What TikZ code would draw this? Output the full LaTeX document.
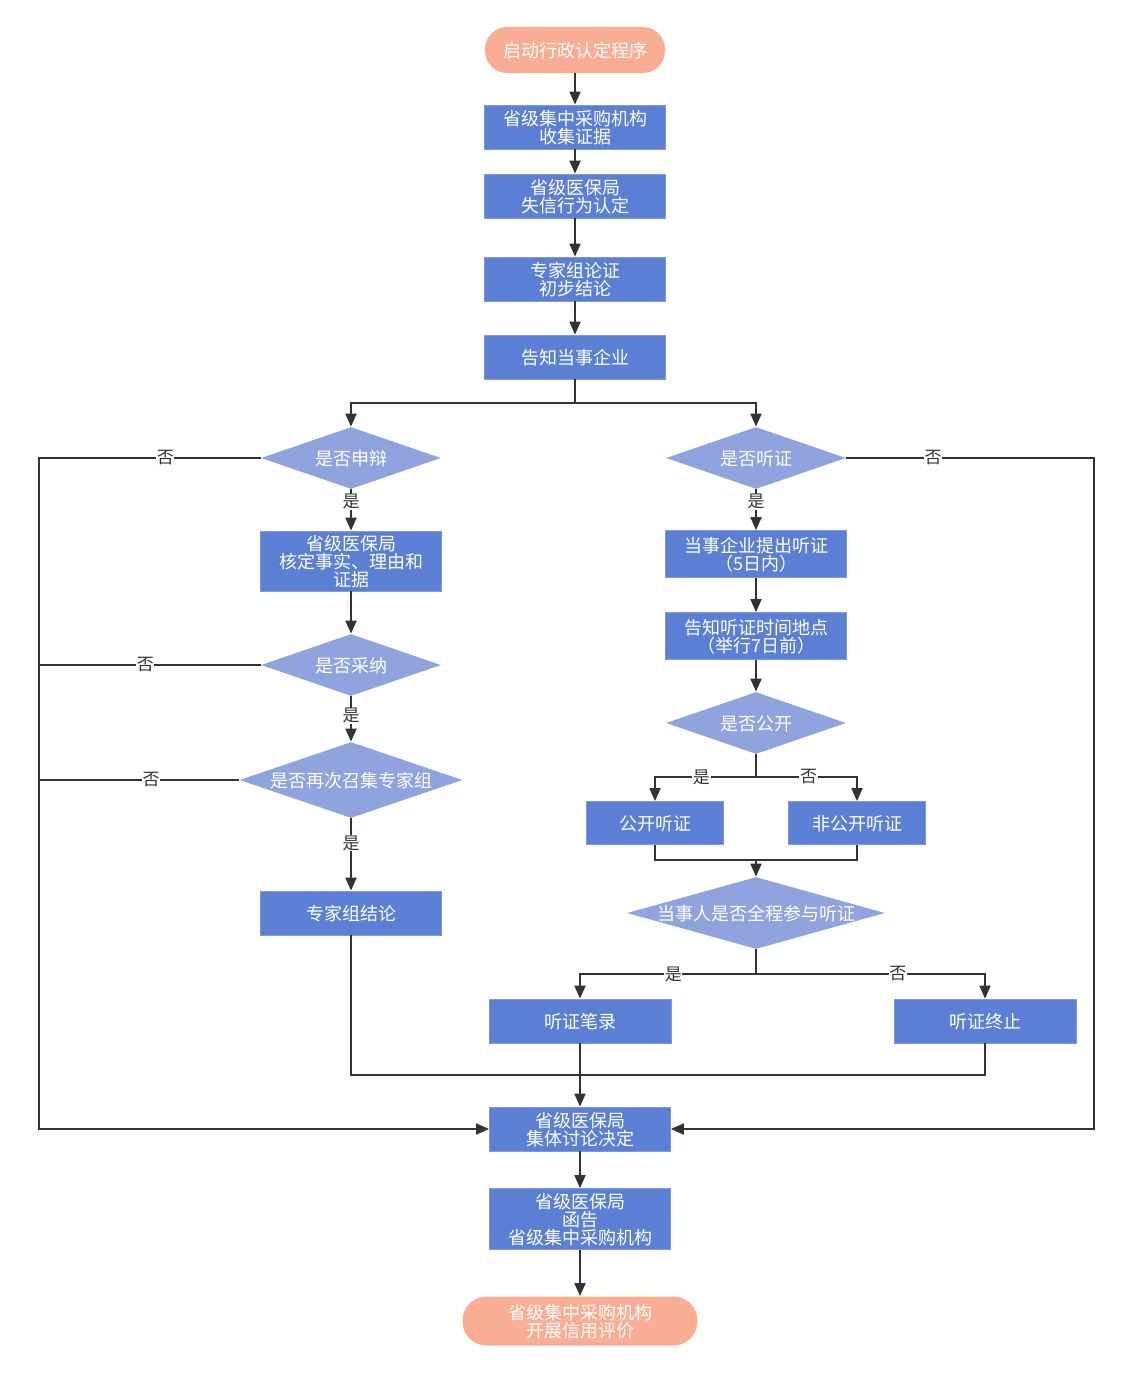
\documentclass[tikz,border=0pt]{standalone}
\usepackage{fontspec}
\setmainfont{Noto Sans CJK SC}
\usetikzlibrary{shapes.geometric, arrows.meta}
\definecolor{salmonfill}{HTML}{F9AE94}
\definecolor{stepblue}{HTML}{5B7FD4}
\definecolor{stepedge}{HTML}{8099DE}
\definecolor{judgeblue}{HTML}{8FA3DE}
\definecolor{linegray}{HTML}{333333}

\begin{document}
\begin{tikzpicture}[
  x=0.5pt, y=-0.5pt,
  font=\fontsize{9pt}{9pt}\selectfont,
  start_end/.style={rectangle, rounded corners=11pt, fill=salmonfill, text=white, minimum width=90pt, minimum height=23pt, inner sep=1pt, text depth=-1pt, align=center},
  step_box/.style={rectangle, fill=stepblue, draw=stepedge, line width=0.4pt, text=white, minimum width=90.5pt, minimum height=22pt, inner sep=1pt, text depth=-1pt, align=center},
  judge_box/.style={diamond, fill=judgeblue, text=white, inner sep=0pt, text depth=-1pt, minimum width=90pt, minimum height=31pt},
  yes_no/.style={fill=white, text=linegray, font=\fontsize{8.5pt}{9pt}\selectfont, inner sep=0.3pt},
  flow_line/.style={draw=linegray, line width=1pt},
  flow_arrow/.style={flow_line, -{Triangle[length=6.5pt, width=5.5pt]}},
]
\useasboundingbox (0,0) rectangle (1136,1380);

\draw (575,50) node (start) [start_end] {启动行政认定程序};
\draw (575,127) node (collect) [step_box] {省级集中采购机构\\收集证据};
\draw (575,196) node (identify) [step_box] {省级医保局\\失信行为认定};
\draw (575,279) node (expert) [step_box] {专家组论证\\初步结论};
\draw (575,357) node (notify) [step_box] {告知当事企业};

\draw (351,458) node (ask_defend) [judge_box] {\makebox[0pt]{是否申辩}};
\draw (351,561) node (verify) [step_box, minimum height=30pt] {省级医保局\\核定事实、理由和\\证据};
\draw (351,665) node (ask_adopt) [judge_box] {\makebox[0pt]{是否采纳}};
\draw (351,780) node (ask_reconvene) [judge_box, minimum width=111.5pt, minimum height=38pt] {\makebox[0pt]{是否再次召集专家组}};
\draw (351,913) node (expert_result) [step_box] {专家组结论};

\draw (756,458) node (ask_hearing) [judge_box] {\makebox[0pt]{是否听证}};
\draw (756,554) node (apply_hearing) [step_box, minimum height=23.5pt] {当事企业提出听证\\（5日内）};
\draw (756,636) node (notify_hearing) [step_box, minimum height=23.5pt] {告知听证时间地点\\（举行7日前）};
\draw (756,723) node (ask_public) [judge_box] {\makebox[0pt]{是否公开}};
\draw (655,823) node (public_hearing) [step_box, minimum width=68.5pt, minimum height=21.5pt] {公开听证};
\draw (857,823) node (private_hearing) [step_box, minimum width=68.5pt, minimum height=21.5pt] {非公开听证};
\draw (756,913) node (ask_attend) [judge_box, minimum width=129pt, minimum height=36pt] {\makebox[0pt]{当事人是否全程参与听证}};
\draw (580,1021) node (hearing_record) [step_box, minimum width=91pt] {听证笔录};
\draw (985,1021) node (hearing_stop) [step_box, minimum width=91pt] {听证终止};

\draw (580,1129) node (decide) [step_box] {省级医保局\\集体讨论决定};
\draw (580,1219) node (letter) [step_box, minimum height=30.5pt] {省级医保局\\函告\\省级集中采购机构};
\draw (580,1321) node (finish) [start_end, minimum width=117.5pt, minimum height=24.5pt, rounded corners=12pt] {省级集中采购机构\\开展信用评价};

\coordinate (split_top) at (575,403);
\coordinate (left_rail) at (39,458);
\coordinate (adopt_rail) at (39,665);
\coordinate (reconvene_rail) at (39,780);
\coordinate (right_rail) at (1094,458);
\coordinate (public_split) at (756,777);
\coordinate (hearing_join) at (756,860);
\coordinate (attend_split) at (756,974);
\coordinate (merge_pt) at (580,1075);

\draw [flow_arrow] (start) -- (collect);
\draw [flow_arrow] (collect) -- (identify);
\draw [flow_arrow] (identify) -- (expert);
\draw [flow_arrow] (expert) -- (notify);
\draw [flow_line] (notify) -- (split_top);
\draw [flow_arrow] (split_top) -| (ask_defend);
\draw [flow_arrow] (split_top) -| (ask_hearing);

\draw [flow_arrow] (ask_defend.west) -- node [yes_no, pos=0.43] {否} (left_rail) |- (decide.west);
\draw [flow_line] (ask_adopt.west) -- node [yes_no, pos=0.52] {否} (adopt_rail);
\draw [flow_line] (ask_reconvene.west) -- node [yes_no, pos=0.44] {否} (reconvene_rail);
\draw [flow_arrow] (ask_defend) -- node [yes_no, pos=0.3] {是} (verify);
\draw [flow_arrow] (verify) -- (ask_adopt);
\draw [flow_arrow] (ask_adopt) -- node [yes_no, pos=0.43] {是} (ask_reconvene);
\draw [flow_arrow] (ask_reconvene) -- node [yes_no, pos=0.34] {是} (expert_result);
\draw [flow_line] (expert_result) |- (merge_pt);

\draw [flow_arrow] (ask_hearing.east) -- node [yes_no, pos=0.35] {否} (right_rail) |- (decide.east);
\draw [flow_arrow] (ask_hearing) -- node [yes_no, pos=0.3] {是} (apply_hearing);
\draw [flow_arrow] (apply_hearing) -- (notify_hearing);
\draw [flow_arrow] (notify_hearing) -- (ask_public);
\draw [flow_line] (ask_public) -- (public_split);
\draw [flow_arrow] (public_split) -| node [yes_no, pos=0.27] {是} (public_hearing);
\draw [flow_arrow] (public_split) -| node [yes_no, pos=0.26] {否} (private_hearing);
\draw [flow_line] (public_hearing.south) |- (hearing_join) -| (private_hearing.south);
\draw [flow_arrow] (hearing_join) -- (ask_attend);
\draw [flow_line] (ask_attend) -- (attend_split);
\draw [flow_arrow] (attend_split) -| node [yes_no, pos=0.235] {是} (hearing_record);
\draw [flow_arrow] (attend_split) -| node [yes_no, pos=0.31] {否} (hearing_stop);
\draw [flow_line] (hearing_stop) |- (merge_pt);

\draw [flow_arrow] (hearing_record) -- (decide);
\draw [flow_arrow] (decide) -- (letter);
\draw [flow_arrow] (letter) -- (finish);
\end{tikzpicture}
\end{document}
